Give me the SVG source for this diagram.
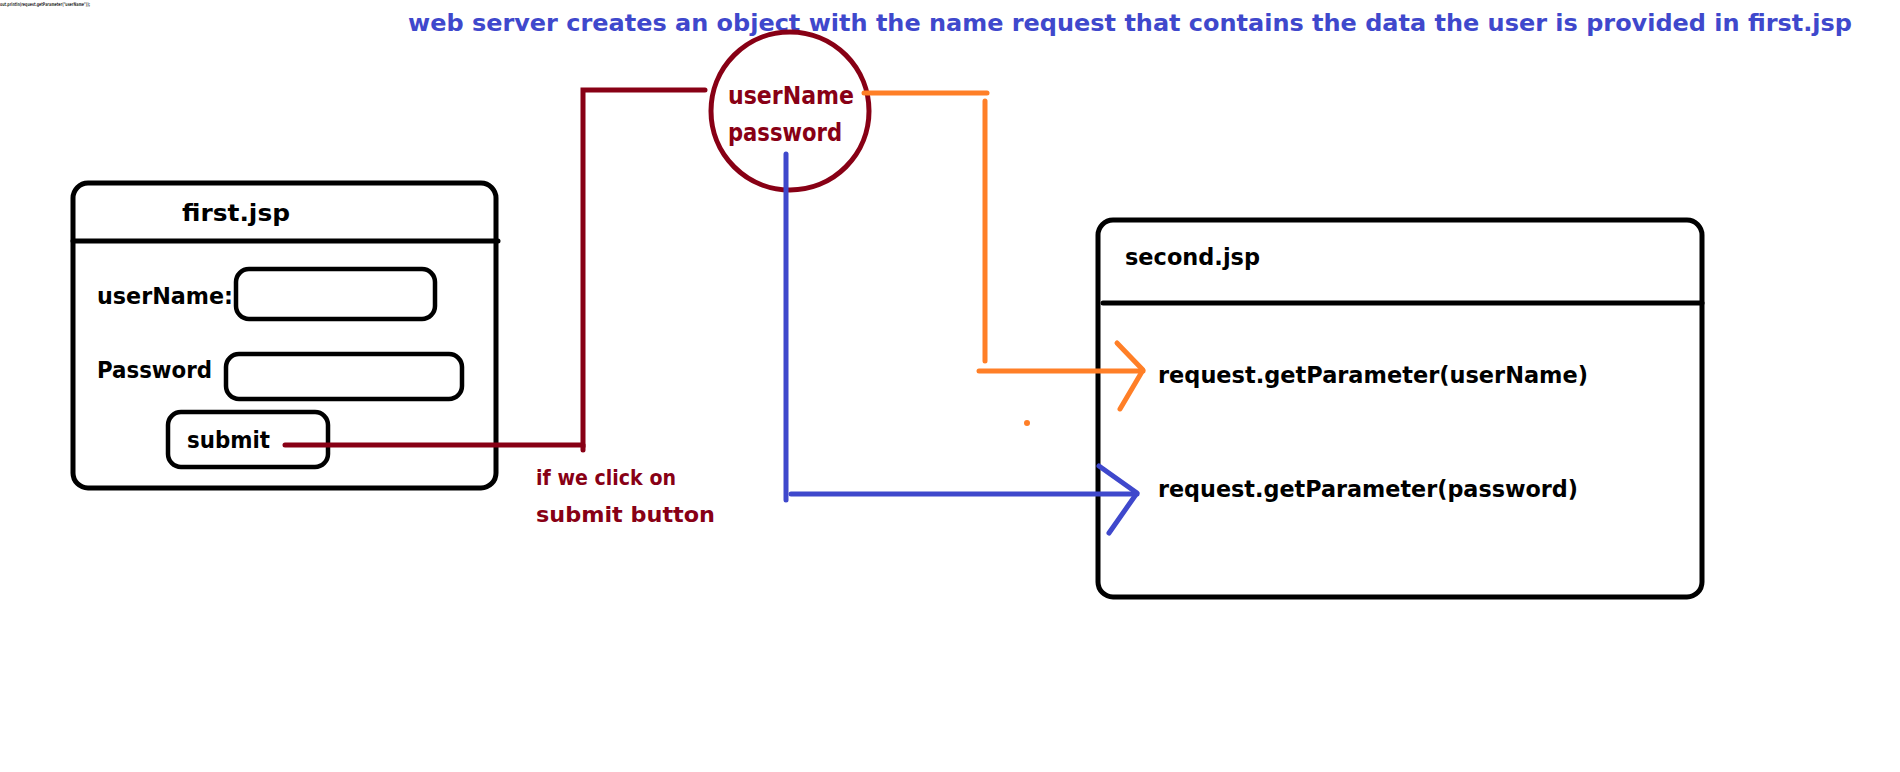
<svg xmlns="http://www.w3.org/2000/svg" width="1900" height="772" viewBox="0 0 1900 772">
<style>
text{font-family:"DejaVu Sans","Noto Sans",sans-serif;font-weight:bold;}
.blk{fill:none;stroke:#000;stroke-width:5;stroke-linecap:round;stroke-linejoin:round;}
.box{fill:none;stroke:#000;stroke-width:4.5;}
.mar{fill:none;stroke:#880015;stroke-width:5;stroke-linecap:round;}
.org{fill:none;stroke:#FF7F27;stroke-width:5;stroke-linecap:round;stroke-linejoin:round;}
.blu{fill:none;stroke:#3F48CC;stroke-width:5;stroke-linecap:round;stroke-linejoin:round;}
.t{font-size:23px;fill:#000;}
</style>
<rect width="1900" height="772" fill="#fff"/>
<text x="0" y="6" font-size="5" font-weight="normal" fill="#333" textLength="90" lengthAdjust="spacingAndGlyphs">out.println(request.getParameter("userName"));</text>
<text x="408" y="31" font-size="23" fill="#3F48CC" textLength="1444" lengthAdjust="spacingAndGlyphs">web server creates an object with the name request that contains the data the user is provided in first.jsp</text>

<g id="first-jsp">
<rect class="blk" x="73" y="183" width="423" height="305" rx="15"/>
<line class="blk" x1="73" y1="241" x2="498" y2="241"/>
<text class="t" x="182" y="221" textLength="108" lengthAdjust="spacingAndGlyphs">first.jsp</text>
<text class="t" x="97" y="304" textLength="136" lengthAdjust="spacingAndGlyphs">userName:</text>
<rect class="box" x="236" y="269" width="199" height="50" rx="13"/>
<text class="t" x="97" y="378" textLength="115" lengthAdjust="spacingAndGlyphs">Password</text>
<rect class="box" x="226" y="354" width="236" height="45" rx="13"/>
<rect class="box" x="168" y="412" width="160" height="55" rx="13"/>
<text class="t" x="187" y="448" textLength="83" lengthAdjust="spacingAndGlyphs">submit</text>
</g>

<g id="request-object">
<circle cx="790" cy="111" r="79" fill="none" stroke="#880015" stroke-width="5"/>
<text x="728" y="104" font-size="25" fill="#880015" textLength="126" lengthAdjust="spacingAndGlyphs">userName</text>
<text x="728" y="141" font-size="25" fill="#880015" textLength="114" lengthAdjust="spacingAndGlyphs">password</text>
</g>

<g id="second-jsp">
<rect class="blk" x="1098" y="220" width="604" height="377" rx="15"/>
<line class="blk" x1="1103" y1="303" x2="1702" y2="303"/>
<text class="t" x="1125" y="265" textLength="135" lengthAdjust="spacingAndGlyphs">second.jsp</text>
<text class="t" x="1158" y="383" textLength="430" lengthAdjust="spacingAndGlyphs">request.getParameter(userName)</text>
<text class="t" x="1158" y="497" textLength="420" lengthAdjust="spacingAndGlyphs">request.getParameter(password)</text>
</g>

<g id="connectors">
<polyline class="mar" points="285,445 583,445 583,90 705,90"/>
<line class="mar" x1="583" y1="445" x2="583" y2="450"/>
<line class="org" x1="864" y1="93" x2="987" y2="93"/>
<line class="org" x1="985" y1="101" x2="985" y2="361"/>
<line class="org" x1="979" y1="371" x2="1143" y2="371"/>
<polyline class="org" points="1117,343 1143,370 1120,409"/>
<circle cx="1027" cy="423" r="3" fill="#FF7F27"/>
<line class="blu" x1="786" y1="154" x2="786" y2="500"/>
<line class="blu" x1="791" y1="494" x2="1137" y2="494"/>
<polyline class="blu" points="1099,466 1137,493 1109,533"/>
</g>
<text x="536" y="485" font-size="22" fill="#880015" textLength="140" lengthAdjust="spacingAndGlyphs">if we click on</text>
<text x="536" y="522" font-size="22" fill="#880015" textLength="179" lengthAdjust="spacingAndGlyphs">submit button</text>
</svg>
